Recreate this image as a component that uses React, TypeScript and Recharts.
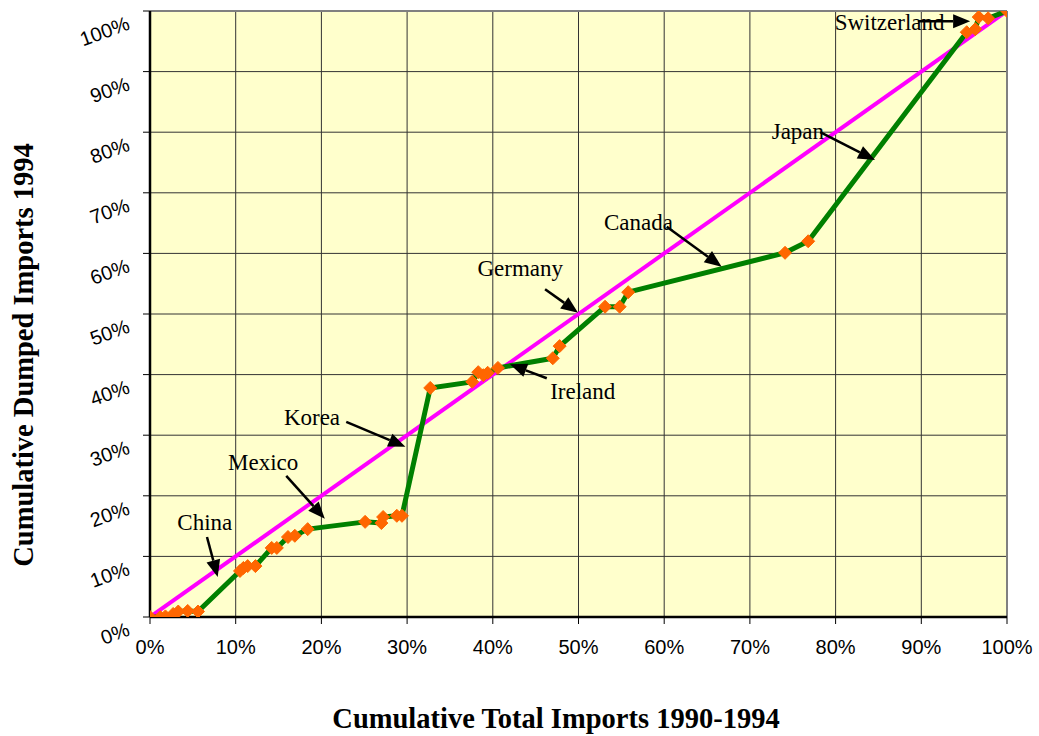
import { LineChart, Line, XAxis, YAxis, CartesianGrid, ReferenceLine, ReferenceDot, Label } from 'recharts';

// cumulative share of total imports 1990-1994 (x) vs cumulative share of dumped imports 1994 (y), in %
const importShare = [
  0, 1.2, 1.8, 2.7, 3.3, 4.4, 5.6, 10.5, 10.9, 11.4, 12.3, 14.2, 14.8, 16.1, 16.9, 18.4, 25.1, 27.0, 27.2,
  28.8, 29.4, 32.7, 37.6, 38.3, 38.9, 39.4, 40.6, 47.0, 47.8, 53.1, 54.8, 55.8, 74.1, 76.8, 95.3, 96.3,
  96.7, 97.8, 100,
];
const dumpedShare = [
  0, 0, 0.1, 0.5, 0.9, 1.0, 0.9, 7.6, 8.1, 8.4, 8.4, 11.4, 11.4, 13.2, 13.4, 14.5, 15.7, 15.5, 16.5,
  16.7, 16.7, 37.8, 38.8, 40.4, 39.9, 40.3, 41.1, 42.7, 44.7, 51.2, 51.2, 53.6, 60.1, 62.0, 96.5, 97.0,
  99.0, 98.8, 100,
];
const equalityX = [0, 100];
const equalityY = [0, 100];
const pctTicks = [0, 10, 20, 30, 40, 50, 60, 70, 80, 90, 100];

// country call-outs
const countries = ['China', 'Mexico', 'Korea', 'Germany', 'Ireland', 'Canada', 'Japan', 'Switzerland'];
const labelX = [6.4, 13.2, 18.9, 43.2, 50.5, 57.0, 75.6, 86.3];
const labelY = [15.7, 25.6, 33.0, 57.6, 37.3, 65.2, 80.2, 98.2];
const arrowFromX = [6.65, 15.9, 22.9, 46.1, 46.3, 60.3, 78.2, 89.6];
const arrowFromY = [13.2, 23.3, 32.2, 54.1, 39.4, 64.4, 80.0, 98.3];
const arrowToX = [7.9, 20.4, 29.8, 49.95, 42.0, 66.7, 84.6, 95.7];
const arrowToY = [6.6, 16.2, 28.1, 50.2, 41.7, 57.8, 75.4, 98.3];

const curveData = importShare.map((x, i) => ({ x, y: dumpedShare[i] }));
const equalityData = equalityX.map((x, i) => ({ x, y: equalityY[i] }));

const SERIF = '"Liberation Serif", "Times New Roman", serif';
const SANS = '"Liberation Sans", Arial, sans-serif';

const Diamond = (props: any) => {
  const { cx, cy, index } = props;
  if (cx == null || cy == null) return <g key={index} />;
  const r = 6.5;
  return (
    <path
      key={index}
      d={`M${cx},${cy - r} L${cx + r},${cy} L${cx},${cy + r} L${cx - r},${cy} Z`}
      fill="#FF6600"
      stroke="#FF6600"
      strokeWidth={1}
    />
  );
};

const Arrow = (props: any) => {
  const { x1, y1, x2, y2 } = props;
  const ang = Math.atan2(y2 - y1, x2 - x1);
  const len = 17;
  const half = 7;
  const bx = x2 - len * Math.cos(ang);
  const by = y2 - len * Math.sin(ang);
  const px = -Math.sin(ang) * half;
  const py = Math.cos(ang) * half;
  return (
    <g>
      <line x1={x1} y1={y1} x2={bx} y2={by} stroke="#000" strokeWidth={2.5} />
      <polygon points={`${x2},${y2} ${bx + px},${by + py} ${bx - px},${by - py}`} fill="#000" />
    </g>
  );
};

const XTick = (props: any) => {
  const { x, y, payload } = props;
  return (
    <text x={x} y={y + 28} textAnchor="middle" fontFamily={SANS} fontSize={20} fill="#000">
      {payload.value}%
    </text>
  );
};

const YTick = (props: any) => {
  const { x, y, payload } = props;
  const ty = y + 18;
  return (
    <text x={x} y={ty} textAnchor="end" fontFamily={SANS} fontSize={20} fill="#000" transform={`rotate(-20, ${x}, ${ty})`}>
      {payload.value}%
    </text>
  );
};

export default function App() {
  return (
    <div style={{ position: 'absolute', left: 0, top: 0, background: '#fff' }}>
      <LineChart width={1039} height={736} margin={{ top: 11, right: 32, bottom: 59, left: 0 }}>
        <CartesianGrid fill="#FFFFCC" fillOpacity={1} stroke="#333" strokeWidth={1} horizontalValues={pctTicks} verticalValues={pctTicks} />
        <XAxis
          type="number"
          dataKey="x"
          domain={[0, 100]}
          ticks={pctTicks}
          height={60}
          tickSize={7}
          tickLine={{ stroke: '#000' }}
          axisLine={{ stroke: '#000', strokeWidth: 2.5 }}
          tick={<XTick />}
          interval={0}
          allowDataOverflow
        >
          <Label
            content={() => (
              <text x={556} y={718} textAnchor="middle" dominantBaseline="central" fontFamily={SERIF} fontWeight="bold" fontSize={28.5} fill="#000">
                Cumulative Total Imports 1990-1994
              </text>
            )}
          />
        </XAxis>
        <YAxis
          type="number"
          dataKey="y"
          domain={[0, 100]}
          ticks={pctTicks}
          width={150}
          tickSize={7}
          tickMargin={12}
          tickLine={{ stroke: '#000' }}
          axisLine={{ stroke: '#000', strokeWidth: 2.5 }}
          tick={<YTick />}
          interval={0}
          allowDataOverflow
        >
          <Label
            content={() => (
              <text
                x={23}
                y={355}
                textAnchor="middle"
                dominantBaseline="central"
                transform="rotate(-90, 23, 355)"
                fontFamily={SERIF}
                fontWeight="bold"
                fontSize={28.5}
                fill="#000"
              >
                Cumulative Dumped Imports 1994
              </text>
            )}
          />
        </YAxis>
        <ReferenceLine y={100} stroke="#808080" strokeWidth={2} />
        <ReferenceLine x={100} stroke="#808080" strokeWidth={2} />
        <Line
          data={equalityData}
          dataKey="y"
          type="linear"
          stroke="#FF00FF"
          strokeWidth={4}
          dot={false}
          activeDot={false}
          isAnimationActive={false}
        />
        <Line
          data={curveData}
          dataKey="y"
          type="linear"
          stroke="#008000"
          strokeWidth={5}
          strokeLinejoin="round"
          dot={Diamond}
          activeDot={false}
          isAnimationActive={false}
        />
        {countries.map((name, i) => (
          <ReferenceLine
            key={`arrow-${name}`}
            segment={[
              { x: arrowFromX[i], y: arrowFromY[i] },
              { x: arrowToX[i], y: arrowToY[i] },
            ]}
            shape={Arrow}
            ifOverflow="visible"
          />
        ))}
        {countries.map((name, i) => (
          <ReferenceDot
            key={`label-${name}`}
            x={labelX[i]}
            y={labelY[i]}
            ifOverflow="visible"
            shape={(p: any) => (
              <text x={p.cx} y={p.cy} dy="0.35em" textAnchor="middle" fontFamily={SERIF} fontSize={23} fill="#000">
                {name}
              </text>
            )}
          />
        ))}
      </LineChart>
    </div>
  );
}
